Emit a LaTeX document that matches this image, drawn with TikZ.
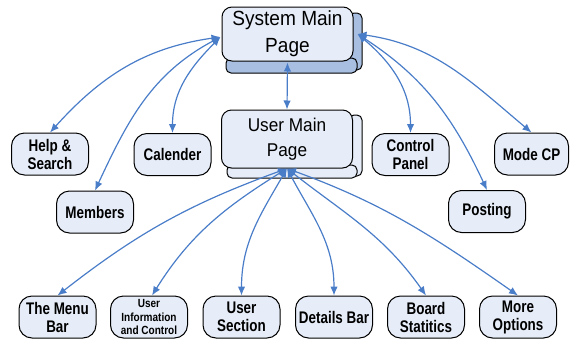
\documentclass[tikz,border=0pt]{standalone}
\usepackage{fontspec}
\setmainfont{Liberation Sans}
\newfontfamily\narrowfont[FakeStretch=0.8]{Liberation Sans}
\newfontfamily\bigfont[FakeStretch=0.93]{Liberation Sans}
\newfontfamily\smallfont[FakeStretch=0.85]{Liberation Sans}
\usetikzlibrary{arrows.meta}
\definecolor{boxfill}{HTML}{E6EDF8}
\definecolor{stripdark}{HTML}{A9BFE1}
\definecolor{linkblue}{HTML}{4A7DC8}
\begin{document}
\begin{tikzpicture}[x=1pt,y=1pt,
  sbox/.style={draw=black, line width=1pt, fill=boxfill, rounded corners=13pt,
    minimum width=77pt, minimum height=42pt, inner sep=1pt, align=center,
    font={\narrowfont\bfseries\fontsize{16.8}{18}\selectfont}},
  tinytext/.style={font={\smallfont\bfseries\fontsize{11.8}{13.5}\selectfont}},
  bigbox/.style={draw=black, line width=1pt, fill=boxfill, rounded corners=10pt,
    minimum width=131pt, inner sep=0pt, align=center},
  strip/.style={draw=black, line width=1pt, rounded corners=5pt},
  link/.style={draw=linkblue, line width=1.2pt,
    {Latex[length=9pt,width=7.5pt]}-{Latex[length=9pt,width=7.5pt]}},
]
\useasboundingbox (0,0) rectangle (570,-338);

% System Main Page (stacked box)
\draw[strip, fill=stripdark] (349,-13) rectangle (362,-70);
\draw[strip, fill=stripdark] (226,-58) rectangle (357,-73);
\node[bigbox, minimum height=54pt, font={\bigfont\fontsize{20.5}{27}\selectfont}]
  (sys) at (287.5,-34) {System Main\\Page};

% User Main Page (stacked box)
\draw[strip, fill=boxfill] (349,-115) rectangle (362,-176);
\draw[strip, fill=boxfill] (227,-165) rectangle (357,-178);
\node[bigbox, minimum height=58pt, font={\bigfont\fontsize{18.5}{25}\selectfont}]
  (usr) at (287,-139) {User Main\\Page};

% small nodes
\node[sbox] (hs) at (50,-154) {Help \&\\Search};
\node[sbox] (cal) at (172.5,-154.5) {Calender};
\node[sbox] (mem) at (95,-212) {Members};
\node[sbox] (cp) at (410.5,-154.5) {Control\\Panel};
\node[sbox, minimum width=74pt] (mcp) at (531.5,-154) {Mode CP};
\node[sbox] (post) at (487,-211.5) {Posting};

\node[sbox] (menu) at (57.5,-317) {The Menu\\Bar};
\node[sbox, tinytext] (uic) at (149,-317) {User\\Information\\and Control};
\node[sbox] (usec) at (241.5,-317) {User\\Section};
\node[sbox] (det) at (334,-317) {Details Bar};
\node[sbox] (board) at (426,-317) {Board\\Statitics};
\node[sbox] (more) at (518,-317) {More\\Options};

% connection points
\coordinate (sysL) at ([xshift=-1pt,yshift=-3pt]sys.west);
\coordinate (sysR) at ([xshift=4pt]sys.east);
\coordinate (sysB) at ([yshift=-1pt]sys.south);
\coordinate (usrB) at (usr.south);

% connectors
\draw[link] (sysB) -- (usr.north);

\draw[link] (sysL) to[out=188, in=48] (hs.north);
\draw[link] (sysL) to[out=208, in=65] (mem.north);
\draw[link] (sysL) to[out=225, in=90] (cal.north);

\draw[link] (sysR) to[out=-40, in=90] (cp.north);
\draw[link] (sysR) to[out=-8, in=140] (mcp.north);
\draw[link] (sysR) to[out=-33, in=115] (post.north);

\draw[link] (usrB) to[out=200, in=38] (menu.north);
\draw[link] (usrB) to[out=212, in=58] ([xshift=3pt]uic.north);
\draw[link] (usrB) to[out=240, in=90] (usec.north);
\draw[link] (usrB) to[out=-62, in=90] (det.north);
\draw[link] (usrB) to[out=-38, in=125] (board.north);
\draw[link] (usrB) to[out=-20, in=145] (more.north);
\end{tikzpicture}
\end{document}
